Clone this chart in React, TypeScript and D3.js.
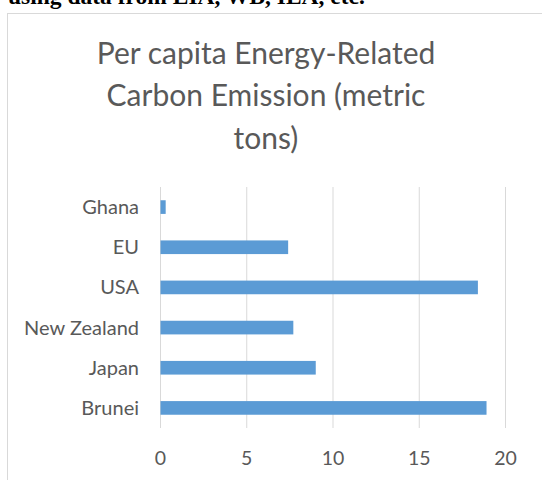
import React from 'react';
import * as d3 from 'd3';

// Per-capita energy-related CO2 emissions, metric tons
const countries = ['Ghana', 'EU', 'USA', 'New Zealand', 'Japan', 'Brunei'];
const emissions = [0.3, 7.4, 18.4, 7.7, 9.0, 18.9];
const xTicks = [0, 5, 10, 15, 20];
const titleLines = ['Per capita Energy-Related', 'Carbon Emission (metric', 'tons)'];
const headerText = 'using data from EIA, WB, IEA, etc.';

const TEXT = '#595959';
const GRID = '#d9d9d9';
const BAR = '#5b9bd5';
const FONT = 'Lato, "Open Sans", sans-serif';

export default function App() {
  const W = 542;
  const H = 480;

  const x = d3.scaleLinear().domain([0, 20]).range([160.5, 505.5]);
  const y = d3
    .scaleBand<string>()
    .domain(countries)
    .range([187, 428])
    .paddingInner(0.66)
    .paddingOuter(0.33);

  return (
    <svg
      width={W}
      height={H}
      style={{ position: 'absolute', left: 0, top: 0, background: '#fff' }}
    >
      <text
        x={8}
        y={3.5}
        fontFamily='"Liberation Serif", "Times New Roman", serif'
        fontWeight="bold"
        fontSize={23.5}
        fill="#000"
      >
        {headerText}
      </text>

      <rect x={7.5} y={13.5} width={700} height={700} fill="#fff" stroke={GRID} strokeWidth={1} />

      {titleLines.map((line, i) => (
        <text
          key={line}
          x={266}
          y={63.5 + i * 42.5}
          textAnchor="middle"
          fontFamily={FONT}
          fontSize={30}
          fill={TEXT}
        >
          {line}
        </text>
      ))}

      {xTicks.map((t) => (
        <g key={t}>
          <line x1={x(t)} x2={x(t)} y1={187} y2={428} stroke={GRID} strokeWidth={1} />
          <text x={x(t)} y={465} textAnchor="middle" fontFamily={FONT} fontSize={19.5} fill={TEXT}>
            {t}
          </text>
        </g>
      ))}

      {countries.map((c, i) => (
        <g key={c}>
          <rect
            x={x(0)}
            y={y(c)!}
            width={x(emissions[i]) - x(0)}
            height={y.bandwidth()}
            fill={BAR}
          />
          <text
            x={139}
            y={y(c)! + y.bandwidth() / 2 + 7}
            textAnchor="end"
            fontFamily={FONT}
            fontSize={20}
            fill={TEXT}
          >
            {c}
          </text>
        </g>
      ))}
    </svg>
  );
}
